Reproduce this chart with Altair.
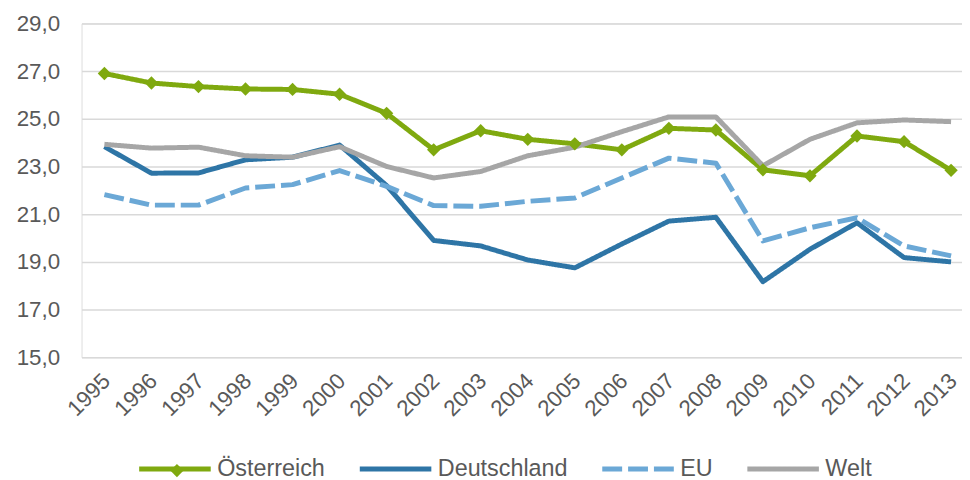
import altair as alt
import pandas as pd

years = list(range(1995, 2014))
series_names = ["Österreich", "Deutschland", "EU", "Welt"]
oesterreich = [26.90, 26.50, 26.35, 26.25, 26.23, 26.03, 25.23, 23.70, 24.50, 24.14,
               23.95, 23.70, 24.60, 24.53, 22.86, 22.61, 24.28, 24.04, 22.84]
deutschland = [23.83, 22.72, 22.73, 23.28, 23.39, 23.90, 22.20, 19.90, 19.67, 19.08,
               18.75, 19.75, 20.71, 20.87, 18.17, 19.53, 20.64, 19.18, 19.00]
eu = [21.82, 21.38, 21.38, 22.10, 22.24, 22.83, 22.17, 21.36, 21.33, 21.54,
      21.68, 22.52, 23.35, 23.14, 19.88, 20.43, 20.85, 19.67, 19.25]
welt = [23.93, 23.77, 23.81, 23.45, 23.39, 23.83, 23.00, 22.52, 22.79, 23.45,
        23.81, 24.46, 25.08, 25.08, 23.03, 24.14, 24.83, 24.95, 24.88]
y_ticks = [15, 17, 19, 21, 23, 25, 27, 29]

colors = ["#7FA90F", "#2E75A6", "#6BA8D6", "#A6A6A6"]
dashes = [[1, 0], [1, 0], [20, 6], [1, 0]]
text_color = "#595959"
font = "Liberation Sans"

rows = []
for name, vals in zip(series_names, [oesterreich, deutschland, eu, welt]):
    for yr, v in zip(years, vals):
        rows.append({"year": yr, "value": v, "series": name})
df = pd.DataFrame(rows)

x = alt.X("year:Q",
          scale=alt.Scale(domain=[1994.514, 2013.232], nice=False, zero=False),
          axis=alt.Axis(values=years, format="d", labelAngle=-45, grid=False,
                        domain=False, ticks=False, labelFontSize=22.5,
                        labelColor=text_color, labelPadding=12, labelOffset=-6,
                        title=None, labelFlush=False, labelOverlap=False,
                        labelFont=font))
y = alt.Y("value:Q",
          scale=alt.Scale(domain=[15, 29], nice=False, zero=False),
          axis=alt.Axis(values=y_ticks,
                        labelExpr="replace(format(datum.value, '.1f'), '.', ',')",
                        title=None, domain=False, ticks=False, grid=True,
                        gridColor="#D9D9D9", gridWidth=1.5, labelFontSize=22.5,
                        labelColor=text_color, labelPadding=22, labelFont=font))

leg = dict(orient="none", legendX=55.5, legendY=410, direction="horizontal",
           columns=4, title=None, symbolType="stroke", symbolSize=5184,
           symbolStrokeWidth=5, labelFontSize=23.5, labelColor=text_color,
           labelOffset=4, columnPadding=24, padding=0, labelFont=font)

lines = alt.Chart(df).mark_line(strokeWidth=5, strokeJoin="round", strokeCap="butt").encode(
    x=x, y=y,
    color=alt.Color("series:N", scale=alt.Scale(domain=series_names, range=colors),
                    legend=alt.Legend(**leg)),
    strokeDash=alt.StrokeDash("series:N", scale=alt.Scale(domain=series_names, range=dashes),
                              legend=alt.Legend(**leg)),
)

points = alt.Chart(df).transform_filter(
    alt.datum.series == "Österreich"
).mark_point(filled=True, size=180, opacity=1, color=colors[0]).encode(
    x=x, y=y,
    shape=alt.Shape("series:N", scale=alt.Scale(domain=["Österreich"], range=["diamond"]),
                    legend=alt.Legend(orient="none", legendX=89, legendY=443, title=None,
                                      labelExpr="''", labelFontSize=1,
                                      symbolFillColor=colors[0], symbolStrokeWidth=0,
                                      symbolSize=180, padding=0)),
)

chart = alt.layer(lines, points).properties(
    width=886, height=336,
    padding={"left": 8, "top": 3, "right": 0, "bottom": 0},
).configure_view(stroke=None).configure(font=font)

chart.save("out.html", embed_options={"renderer": "svg", "actions": False})
